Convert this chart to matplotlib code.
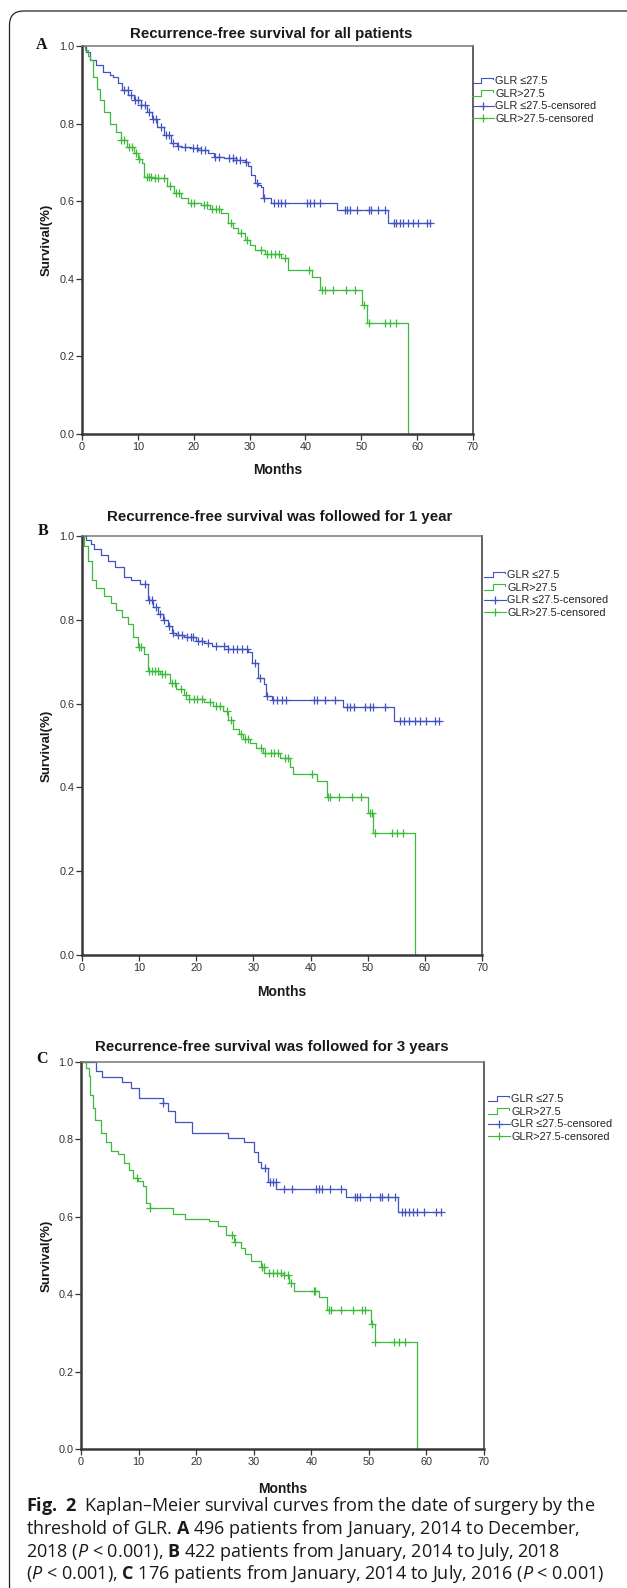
import numpy as np
import matplotlib.pyplot as plt
from matplotlib.lines import Line2D
from matplotlib.legend_handler import HandlerBase
from matplotlib.patches import FancyBboxPatch
from matplotlib.transforms import IdentityTransform

plt.rcParams['font.family'] = ['Liberation Sans', 'DejaVu Sans']
plt.rcParams['mathtext.fontset'] = 'custom'
plt.rcParams['mathtext.rm'] = 'Open Sans'
plt.rcParams['mathtext.it'] = 'Open Sans:italic'
plt.rcParams['mathtext.bf'] = 'Open Sans:bold'

# ---- data (months, survival) ----
# A: all patients
a_blue_t = [0, 0.7, 1.5, 2.5, 3.8, 5.0, 5.6, 6.5, 7.2, 8.3, 9.3, 10.5, 11.7, 12.6, 13.5, 14.7, 15.9, 17.0,
            17.7, 19.5, 20.7, 22.5, 23.7, 25.5, 27.5, 29.1, 29.7, 30.3, 30.9, 31.5, 32.1, 32.4, 33.9, 45.6, 54.7]
a_blue_s = [1.0, 0.985, 0.965, 0.95, 0.934, 0.925, 0.921, 0.905, 0.887, 0.875, 0.861, 0.848, 0.831, 0.812,
            0.792, 0.77, 0.749, 0.743, 0.74, 0.736, 0.732, 0.723, 0.715, 0.711, 0.706, 0.702, 0.69, 0.668,
            0.646, 0.641, 0.637, 0.607, 0.595, 0.577, 0.545]
a_blue_c = [7.5, 8.2, 8.8, 9.5, 10.0, 10.6, 11.2, 12.0, 12.8, 13.3, 14.2, 15.0, 15.5, 16.3, 17.2, 18.5, 19.8,
            20.5, 21.3, 22.0, 23.8, 24.5, 26.3, 27.0, 27.6, 28.3, 29.3, 31.3, 32.6, 34.3, 35.0, 35.6, 36.4,
            40.2, 40.8, 41.6, 42.6, 47.0, 47.5, 48.0, 49.3, 51.3, 51.8, 53.0, 54.2, 55.8, 56.3, 57.0, 57.5,
            58.3, 59.3, 60.2, 61.7, 62.3]
a_green_t = [0, 0.5, 1.0, 1.4, 2.0, 2.6, 3.2, 4.0, 5.0, 6.0, 6.9, 8.0, 9.3, 10.0, 10.8, 11.1, 12.5, 14.1,
             15.3, 16.5, 17.7, 18.9, 21.3, 23.0, 24.9, 26.1, 27.0, 27.9, 29.1, 30.0, 30.9, 32.7, 35.7, 36.9,
             41.1, 42.6, 50.1, 51.1, 58.3]
a_green_s = [1.0, 0.99, 0.975, 0.964, 0.921, 0.89, 0.861, 0.83, 0.8, 0.778, 0.758, 0.74, 0.723, 0.71,
             0.698, 0.663, 0.661, 0.659, 0.64, 0.62, 0.607, 0.595, 0.59, 0.58, 0.569, 0.543, 0.53, 0.517,
             0.5, 0.487, 0.474, 0.465, 0.453, 0.423, 0.405, 0.371, 0.332, 0.285, 0.0]
a_green_c = [7.0, 7.6, 8.4, 9.0, 9.6, 10.2, 11.6, 12.0, 12.4, 13.0, 13.6, 14.6, 15.8, 16.8, 17.4, 19.5,
             20.0, 21.8, 22.4, 23.2, 24.0, 24.6, 26.6, 28.4, 29.5, 32.0, 33.2, 33.8, 34.5, 35.2, 36.3,
             40.6, 43.0, 43.5, 45.0, 47.2, 48.8, 50.5, 51.3, 54.2, 55.2, 56.3]

# B: followed for 1 year
b_blue_t = [0, 0.7, 1.5, 2.1, 3.3, 4.5, 5.8, 7.3, 8.5, 10.1, 11.5, 12.5, 13.3, 14.2, 15.0, 15.7, 16.5,
            17.8, 19.9, 21.3, 22.7, 25.5, 29.0, 29.7, 30.8, 31.8, 32.2, 33.2, 45.6, 54.6]
b_blue_s = [1.0, 0.99, 0.98, 0.97, 0.955, 0.941, 0.925, 0.903, 0.895, 0.886, 0.848, 0.83, 0.814, 0.8,
            0.785, 0.768, 0.763, 0.759, 0.75, 0.745, 0.738, 0.73, 0.722, 0.696, 0.662, 0.646, 0.617,
            0.609, 0.592, 0.559]
b_blue_c = [11.0, 11.7, 12.2, 12.9, 13.6, 14.3, 15.2, 16.0, 16.8, 17.5, 18.3, 19.0, 19.5, 20.3, 21.0,
            22.0, 23.4, 24.8, 25.5, 26.5, 27.2, 28.0, 28.8, 30.3, 31.2, 32.3, 33.5, 34.2, 35.0, 35.7,
            40.6, 41.2, 42.5, 44.3, 46.4, 46.9, 47.6, 49.6, 50.4, 51.0, 53.0, 55.6, 56.4, 57.3, 58.3,
            59.2, 60.2, 61.7, 62.4]
b_green_t = [0, 0.4, 1.05, 1.75, 2.5, 3.85, 5.0, 5.95, 7.0, 8.0, 9.0, 9.8, 10.8, 11.5, 13.6, 15.4, 16.5,
             17.8, 18.8, 21.3, 23.0, 24.7, 25.6, 26.5, 27.4, 28.2, 29.4, 30.5, 31.7, 34.6, 36.4, 37.0,
             41.1, 42.8, 50.1, 51.0, 58.2]
b_green_s = [1.0, 0.975, 0.94, 0.895, 0.875, 0.857, 0.84, 0.823, 0.806, 0.79, 0.76, 0.735, 0.718, 0.678,
             0.671, 0.648, 0.635, 0.62, 0.61, 0.603, 0.594, 0.582, 0.562, 0.54, 0.528, 0.515, 0.507,
             0.495, 0.482, 0.469, 0.448, 0.432, 0.415, 0.378, 0.34, 0.29, 0.0]
b_green_c = [10.0, 10.4, 11.8, 12.2, 12.8, 13.3, 14.0, 14.6, 15.8, 16.3, 17.3, 18.2, 18.8, 19.6, 20.2,
             21.0, 22.4, 23.4, 24.2, 25.3, 26.0, 27.8, 28.5, 29.0, 31.4, 32.0, 33.0, 33.6, 34.3, 35.5,
             36.0, 40.3, 43.0, 43.4, 45.0, 47.3, 48.8, 50.4, 50.8, 51.2, 54.3, 55.2, 56.2]

# C: followed for 3 years
c_blue_t = [0, 2.6, 3.6, 7.1, 8.6, 10.0, 14.2, 15.1, 16.3, 19.2, 25.5, 28.3, 30.1, 30.7, 31.3, 32.4,
            33.9, 46.0, 55.0]
c_blue_s = [1.0, 0.977, 0.961, 0.949, 0.932, 0.907, 0.895, 0.874, 0.845, 0.816, 0.804, 0.792, 0.767,
            0.742, 0.726, 0.689, 0.672, 0.652, 0.612]
c_blue_c = [14.3, 32.0, 32.9, 33.3, 33.8, 35.2, 36.6, 40.9, 41.3, 41.8, 43.2, 45.2, 47.6, 48.0, 48.5,
            50.2, 51.9, 52.2, 53.4, 54.5, 55.7, 56.3, 57.0, 57.7, 58.4, 59.5, 61.7, 62.5]
c_green_t = [0, 0.9, 1.35, 1.6, 2.0, 2.5, 3.4, 4.3, 5.2, 6.4, 7.5, 8.3, 9.0, 9.9, 10.7, 11.3, 11.9,
             16.0, 18.0, 22.3, 23.8, 25.2, 26.6, 27.8, 28.4, 29.5, 31.3, 31.8, 35.3, 36.2, 37.0, 41.3,
             42.8, 50.4, 51.0, 58.3]
c_green_s = [1.0, 0.985, 0.965, 0.915, 0.88, 0.849, 0.816, 0.792, 0.771, 0.763, 0.738, 0.72, 0.701,
             0.693, 0.68, 0.635, 0.623, 0.606, 0.594, 0.59, 0.577, 0.553, 0.536, 0.52, 0.503, 0.487,
             0.47, 0.454, 0.45, 0.429, 0.408, 0.392, 0.359, 0.322, 0.276, 0.0]
c_green_c = [9.8, 11.9, 26.3, 26.8, 31.4, 31.7, 32.6, 33.3, 34.0, 34.8, 35.3, 35.9, 36.5, 40.5, 40.7,
             43.0, 43.4, 45.2, 47.3, 48.8, 49.4, 50.6, 51.0, 54.3, 55.2, 56.2]

titles = ['Recurrence-free survival for all patients',
          'Recurrence-free survival was followed for 1 year',
          'Recurrence-free survival was followed for 3 years']
letters = ['A', 'B', 'C']
legend_labels = ['GLR \u226427.5', 'GLR>27.5', 'GLR \u226427.5-censored', 'GLR>27.5-censored']
x_ticks = [0, 10, 20, 30, 40, 50, 60, 70]
y_ticks = [0.0, 0.2, 0.4, 0.6, 0.8, 1.0]

caption = ['$\\mathbf{Fig.\\ 2}$  Kaplan\u2013Meier survival curves from the date of surgery by the',
           'threshold of GLR. $\\mathbf{A}$ 496 patients from January, 2014 to December,',
           '2018 ($\\mathit{P}$ < 0.001), $\\mathbf{B}$ 422 patients from January, 2014 to July, 2018',
           '($\\mathit{P}$ < 0.001), $\\mathbf{C}$ 176 patients from January, 2014 to July, 2016 ($\\mathit{P}$ < 0.001)']

W, H = 627, 1588
BLUE = '#4053c0'
GREEN = '#3cba3c'

# layout in pixels: axes box (x0, top, x1, bottom), title centre, legend top-left, months label y
panels = [
    dict(box=(82, 46, 473, 434), title=(271, 34), letter=(42, 45), leg=(472, 76), months=470,
         data=[(a_blue_t, a_blue_s, a_blue_c), (a_green_t, a_green_s, a_green_c)]),
    dict(box=(82, 536, 482, 955), title=(280, 517), letter=(43, 531), leg=(484, 570), months=992,
         data=[(b_blue_t, b_blue_s, b_blue_c), (b_green_t, b_green_s, b_green_c)]),
    dict(box=(81, 1062, 484, 1449), title=(272, 1047), letter=(42, 1059), leg=(488, 1094), months=1489,
         data=[(c_blue_t, c_blue_s, c_blue_c), (c_green_t, c_green_s, c_green_c)]),
]


class StepHandler(HandlerBase):
    def create_artists(self, legend, orig_handle, xdescent, ydescent, width, height, fontsize, trans):
        x0, y0 = -xdescent, -ydescent
        xs = [x0, x0 + 0.4 * width, x0 + 0.4 * width, x0 + 0.95 * width, x0 + 0.95 * width]
        ys = [y0 + 0.15 * height, y0 + 0.15 * height, y0 + 0.85 * height, y0 + 0.85 * height, y0 + 0.6 * height]
        ln = Line2D(xs, ys, color=orig_handle.get_color(), lw=0.8, transform=trans)
        return [ln]


def fy(y):
    return 1 - y / H


def draw_km(ax, t, s, cens, color):
    t = np.asarray(t)
    s = np.asarray(s)
    cens = np.asarray(cens)
    if s[-1] > 0:
        tt = np.append(t, cens.max())
        ss = np.append(s, s[-1])
    else:
        tt, ss = t, s
    ax.step(tt, ss, where='post', color=color, lw=0.9, clip_on=False)
    idx = np.searchsorted(t, cens, side='right') - 1
    ax.plot(cens, s[idx], ls='none', marker='+', ms=5.5, mew=0.9, color=color, clip_on=False)


fig = plt.figure(figsize=(W / 100, H / 100), dpi=100)

# rounded frame (left and top edges only visible)
frame = FancyBboxPatch((9.5, -40), 700, H - 11 + 40, boxstyle='round,pad=0,rounding_size=14',
                       transform=IdentityTransform(), fill=False, ec='#222222', lw=0.9)
fig.add_artist(frame)

for i, p in enumerate(panels):
    x0, y0, x1, y1 = p['box']
    ax = fig.add_axes([x0 / W, fy(y1), (x1 - x0) / W, (y1 - y0) / H])
    draw_km(ax, *p['data'][0], BLUE)
    draw_km(ax, *p['data'][1], GREEN)

    ax.set_xlim(0, 70)
    ax.set_ylim(0, 1)
    ax.set_xticks(x_ticks)
    ax.set_yticks(y_ticks)
    ax.set_yticklabels(['%.1f' % v for v in y_ticks])
    ax.tick_params(direction='out', length=4, width=0.9, color='#333333', labelsize=7.8,
                   labelcolor='#333333', pad=1.5)
    ax.spines['left'].set_linewidth(1.8)
    ax.spines['bottom'].set_linewidth(1.8)
    ax.spines['left'].set_color('#383838')
    ax.spines['bottom'].set_color('#383838')
    ax.spines['top'].set_linewidth(1.1)
    ax.spines['right'].set_linewidth(1.3)
    ax.spines['top'].set_color('#777777')
    ax.spines['right'].set_color('#555555')

    fig.text(p['title'][0] / W, fy(p['title'][1]), titles[i], ha='center', va='center',
             fontsize=10.8, fontweight='bold', color='#1a1a1a')
    fig.text(p['letter'][0] / W, fy(p['letter'][1]), letters[i], ha='center', va='center',
             fontsize=11.5, fontweight='bold', family='Liberation Serif', color='#111111')
    fig.text(47 / W, fy((y0 + y1) / 2), 'Survival(%)', rotation=90, ha='center', va='center',
             fontsize=9.5, fontweight='bold', color='#1a1a1a')
    fig.text(((x0 + x1) / 2) / W, fy(p['months']), 'Months', ha='center', va='center',
             fontsize=10, fontweight='bold', color='#1a1a1a')

    handles = [Line2D([], [], color=BLUE), Line2D([], [], color=GREEN),
               Line2D([], [], color=BLUE, marker='+', ms=6, mew=0.9, lw=0.8),
               Line2D([], [], color=GREEN, marker='+', ms=6, mew=0.9, lw=0.8)]
    hmap = {handles[0]: StepHandler(), handles[1]: StepHandler()}
    leg = ax.legend(handles, legend_labels, handler_map=hmap, loc='upper left',
                    bbox_to_anchor=(p['leg'][0] / W, fy(p['leg'][1])), bbox_transform=fig.transFigure,
                    frameon=False, fontsize=7.8, handlelength=2.0, handletextpad=0.15,
                    labelspacing=0.25, borderpad=0, borderaxespad=0)
    for txt in leg.get_texts():
        txt.set_color('#222222')

cap_y = [1506, 1529, 1552, 1574]
for line, y in zip(caption, cap_y):
    fig.text(26 / W, fy(y), line, ha='left', va='center', fontsize=13.0, family='Open Sans',
             color='#1a1a1a')

fig.savefig('out.png', dpi=100)
